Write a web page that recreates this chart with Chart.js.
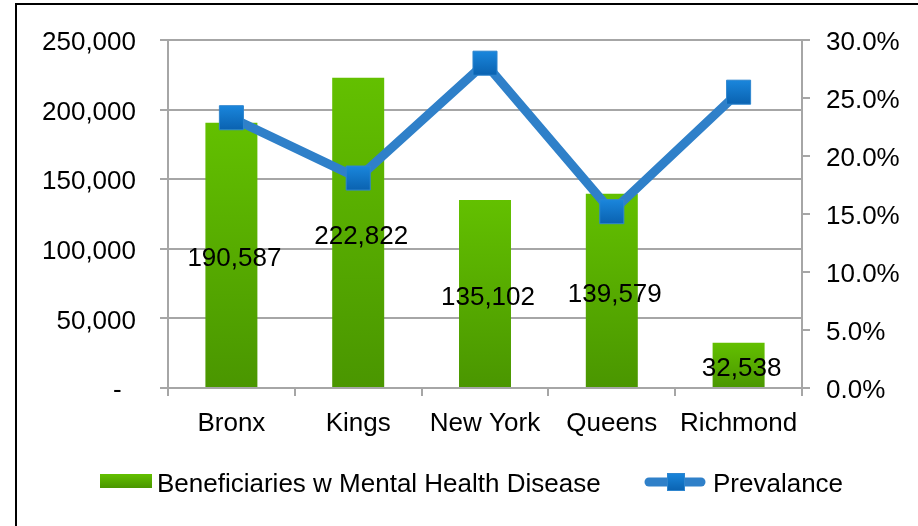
<!DOCTYPE html>
<html>
<head>
<meta charset="utf-8">
<script src="https://cdn.jsdelivr.net/npm/chart.js@4"></script>
<style>
  html, body { margin: 0; padding: 0; background: #fff; }
  #wrap { position: relative; width: 918px; height: 526px; }
</style>
</head>
<body>
<div id="wrap"><canvas id="chart" width="918" height="526"></canvas></div>
<script>
/* data */
const boroughs      = ['Bronx', 'Kings', 'New York', 'Queens', 'Richmond'];
const beneficiaries = [190587, 222822, 135102, 139579, 32538];
const prevalence    = [0.233, 0.181, 0.280, 0.152, 0.255];
const countTicks    = [0, 50000, 100000, 150000, 200000, 250000];
const pctTicks      = [0, 0.05, 0.10, 0.15, 0.20, 0.25, 0.30];

const barLabel  = 'Beneficiaries w Mental Health Disease';
const lineLabel = 'Prevalance';

const FONT = "'Liberation Sans', Arial, sans-serif";
const GRID = '#a6a6a6';
const LINE = '#2f80c9';

Chart.defaults.font.family = FONT;
Chart.defaults.font.size = 26;
Chart.defaults.color = '#000';

function barGradient(ctx) {
  const chart = ctx.chart;
  const y = chart.scales && chart.scales.y;
  if (!chart.chartArea || !y || ctx.raw == null) return '#58ab00';
  const top = y.getPixelForValue(ctx.raw);
  const bottom = y.getPixelForValue(0);
  const g = chart.ctx.createLinearGradient(0, top, 0, bottom);
  g.addColorStop(0, '#63c000');
  g.addColorStop(1, '#4a9600');
  return g;
}

function markerGradient(ctx) {
  const chart = ctx.chart;
  const y1 = chart.scales && chart.scales.y1;
  if (!chart.chartArea || !y1 || ctx.raw == null) return '#1176d0';
  const cy = y1.getPixelForValue(ctx.raw);
  const g = chart.ctx.createLinearGradient(0, cy - 12, 0, cy + 12);
  g.addColorStop(0, '#1a86dc');
  g.addColorStop(1, '#0a62b0');
  return g;
}

/* black frame on top and left, as in the source slide */
const framePlugin = {
  id: 'frame',
  beforeDraw(chart) {
    const c = chart.ctx;
    c.save();
    c.fillStyle = '#000';
    c.fillRect(15, 3, 903, 2);
    c.fillRect(15, 3, 2, 523);
    c.restore();
  },
};

/* value labels in the middle of each bar */
const barLabels = {
  id: 'barLabels',
  afterDatasetsDraw(chart) {
    const meta = chart.getDatasetMeta(1);
    const c = chart.ctx;
    c.save();
    c.font = '26px ' + FONT;
    c.fillStyle = '#000';
    c.textAlign = 'center';
    c.textBaseline = 'middle';
    meta.data.forEach((bar, i) => {
      const mid = (bar.y + bar.base) / 2;
      c.fillText(beneficiaries[i].toLocaleString('en-US'), bar.x + 3, mid + 4);
    });
    c.restore();
  },
};

/* legend drawn by hand so the line entry gets its square marker */
const legendPlugin = {
  id: 'customLegend',
  afterDraw(chart) {
    const c = chart.ctx;
    const y = 482;
    c.save();
    const g = c.createLinearGradient(0, 474, 0, 488);
    g.addColorStop(0, '#63c000');
    g.addColorStop(1, '#4a9600');
    c.fillStyle = g;
    c.fillRect(100, 474, 52, 14);

    c.font = '26px ' + FONT;
    c.fillStyle = '#000';
    c.textAlign = 'left';
    c.textBaseline = 'middle';
    c.fillText(barLabel, 157, y + 3);

    c.strokeStyle = LINE;
    c.lineWidth = 9;
    c.lineCap = 'round';
    c.beginPath();
    c.moveTo(649, y);
    c.lineTo(701, y);
    c.stroke();
    const mg = c.createLinearGradient(0, y - 9, 0, y + 9);
    mg.addColorStop(0, '#1a86dc');
    mg.addColorStop(1, '#0a62b0');
    c.fillStyle = mg;
    c.fillRect(667, y - 9, 18, 18);
    c.strokeStyle = '#2f86cf';
    c.lineWidth = 1;
    c.strokeRect(667.5, y - 8.5, 17, 17);

    c.fillStyle = '#000';
    c.fillText(lineLabel, 713, y + 3);
    c.restore();
  },
};

new Chart(document.getElementById('chart'), {
  data: {
    labels: boroughs,
    datasets: [
      {
        type: 'line',
        label: lineLabel,
        data: prevalence,
        yAxisID: 'y1',
        order: 0,
        borderColor: LINE,
        borderWidth: 9,
        tension: 0,
        pointStyle: 'rect',
        pointRadius: 17,
        pointHoverRadius: 17,
        pointBackgroundColor: markerGradient,
        pointBorderColor: '#2f86cf',
        pointBorderWidth: 1,
      },
      {
        type: 'bar',
        label: barLabel,
        data: beneficiaries,
        yAxisID: 'y',
        order: 1,
        backgroundColor: barGradient,
        borderWidth: 0,
        categoryPercentage: 1,
        barPercentage: 0.41,
      },
    ],
  },
  options: {
    responsive: false,
    animation: false,
    events: [],
    layout: { padding: { left: 0, right: 0, top: 40, bottom: 80 } },
    plugins: {
      legend: { display: false },
      tooltip: { enabled: false },
    },
    scales: {
      x: {
        offset: true,
        grid: {
          offset: true,
          drawOnChartArea: false,
          drawTicks: true,
          tickLength: 8,
          color: GRID,
          lineWidth: 2,
        },
        border: { color: GRID, width: 2 },
        ticks: { padding: 12, maxRotation: 0, font: { size: 26 } },
        afterFit: s => { s.height = 58; },
      },
      y: {
        position: 'left',
        min: 0,
        max: 250000,
        afterBuildTicks: s => { s.ticks = countTicks.map(v => ({ value: v })); },
        grid: { color: GRID, lineWidth: 2, tickLength: 8 },
        border: { color: GRID, width: 2 },
        ticks: {
          padding: 24,
          labelOffset: 3,
          font: { size: 26 },
          callback: v => v === 0 ? '-\u00a0\u00a0' : v.toLocaleString('en-US'),
        },
        afterFit: s => { s.width = 168; },
      },
      y1: {
        position: 'right',
        min: 0,
        max: 0.30,
        afterBuildTicks: s => { s.ticks = pctTicks.map(v => ({ value: v })); },
        grid: { drawOnChartArea: false, color: GRID, lineWidth: 2, tickLength: 8 },
        border: { color: GRID, width: 2 },
        ticks: {
          padding: 16,
          labelOffset: 3,
          font: { size: 26 },
          callback: v => (v * 100).toFixed(1) + '%',
        },
        afterFit: s => { s.width = 116; },
      },
    },
  },
  plugins: [framePlugin, barLabels, legendPlugin],
});
</script>
</body>
</html>
